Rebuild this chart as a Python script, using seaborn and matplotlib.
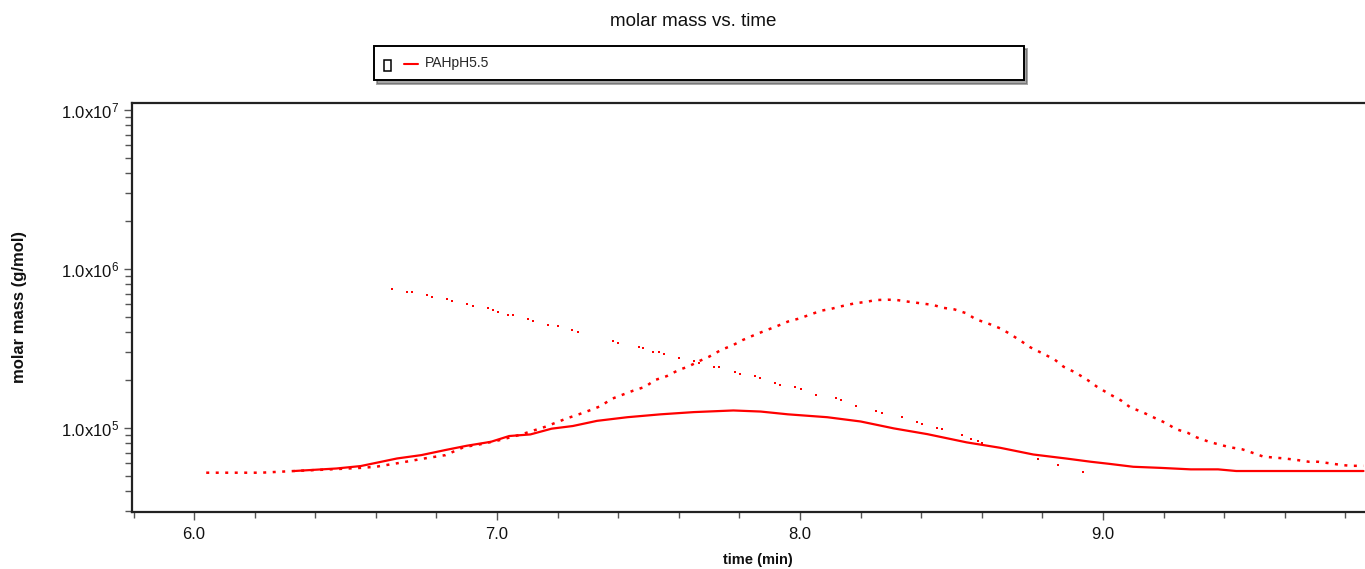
import numpy as np
import pandas as pd
import matplotlib
matplotlib.use("Agg")
import matplotlib.pyplot as plt
import seaborn as sns
from matplotlib.ticker import FixedLocator, LogLocator, MultipleLocator, NullFormatter
from matplotlib.lines import Line2D
from matplotlib.patches import Rectangle
from matplotlib.legend_handler import HandlerBase

# ---------------- data ----------------
title = "molar mass vs. time"
series_label = "PAHpH5.5"
x_label = "time (min)"
y_label = "molar mass (g/mol)"

# fitted molar mass (solid line)
t_fit = [6.33, 6.47, 6.55, 6.67, 6.75, 6.83, 6.90, 6.98, 7.04, 7.11, 7.18, 7.25, 7.33,
         7.43, 7.54, 7.65, 7.78, 7.87, 7.96, 8.09, 8.20, 8.31, 8.42, 8.55, 8.66, 8.77,
         8.88, 8.96, 9.02, 9.10, 9.19, 9.29, 9.38, 9.44, 9.60, 9.86]
m_fit = [5.37e4, 5.57e4, 5.77e4, 6.44e4, 6.76e4, 7.28e4, 7.74e4, 8.20e4, 8.91e4, 9.12e4,
         9.91e4, 1.03e5, 1.11e5, 1.17e5, 1.22e5, 1.26e5, 1.29e5, 1.27e5, 1.22e5, 1.17e5,
         1.10e5, 9.95e4, 9.16e4, 8.13e4, 7.52e4, 6.82e4, 6.43e4, 6.14e4, 5.96e4, 5.71e4,
         5.62e4, 5.50e4, 5.50e4, 5.37e4, 5.37e4, 5.37e4]

# dashed peak-shaped trace
t_trace = [6.04, 6.13, 6.22, 6.33, 6.45, 6.55, 6.60, 6.68, 6.76, 6.83, 6.89, 6.95, 7.01,
           7.08, 7.16, 7.23, 7.27, 7.31, 7.34, 7.38, 7.45, 7.49, 7.52, 7.56, 7.60, 7.63,
           7.67, 7.70, 7.74, 7.78, 7.81, 7.85, 7.89, 7.92, 7.96, 8.00, 8.03, 8.07, 8.10,
           8.14, 8.18, 8.22, 8.25, 8.29, 8.32, 8.36, 8.40, 8.44, 8.47, 8.51, 8.55, 8.58,
           8.62, 8.66, 8.69, 8.73, 8.76, 8.80, 8.84, 8.87, 8.91, 8.95, 8.98, 9.02, 9.06,
           9.09, 9.13, 9.17, 9.21, 9.24, 9.28, 9.31, 9.35, 9.39, 9.42, 9.46, 9.49, 9.53,
           9.60, 9.64, 9.68, 9.71, 9.75, 9.79, 9.82, 9.86]
m_trace = [5.24e4, 5.24e4, 5.24e4, 5.37e4, 5.50e4, 5.62e4, 5.71e4, 6.05e4, 6.44e4, 6.76e4,
           7.59e4, 7.94e4, 8.41e4, 9.12e4, 1.02e5, 1.15e5, 1.22e5, 1.30e5, 1.37e5, 1.53e5,
           1.72e5, 1.82e5, 2.00e5, 2.12e5, 2.32e5, 2.43e5, 2.65e5, 2.81e5, 3.10e5, 3.33e5,
           3.57e5, 3.85e5, 4.13e5, 4.34e5, 4.67e5, 4.90e5, 5.14e5, 5.47e5, 5.60e5, 5.85e5,
           6.08e5, 6.22e5, 6.38e5, 6.41e5, 6.38e5, 6.22e5, 6.08e5, 5.94e5, 5.71e5, 5.57e5,
           5.26e5, 4.83e5, 4.55e5, 4.24e5, 3.94e5, 3.52e5, 3.22e5, 2.95e5, 2.70e5, 2.43e5,
           2.23e5, 2.00e5, 1.82e5, 1.64e5, 1.49e5, 1.35e5, 1.26e5, 1.16e5, 1.07e5, 9.86e4,
           9.33e4, 8.73e4, 8.20e4, 7.82e4, 7.57e4, 7.35e4, 7.03e4, 6.61e4, 6.44e4, 6.30e4,
           6.14e4, 6.14e4, 6.00e4, 5.85e4, 5.79e4, 5.79e4]

# individual molar mass points (sparse dots)
t_pts = [6.652, 6.702, 6.718, 6.768, 6.784, 6.834, 6.850, 6.900, 6.920, 6.971, 6.987,
         7.003, 7.037, 7.053, 7.103, 7.119, 7.169, 7.200, 7.246, 7.266, 7.384, 7.400,
         7.467, 7.483, 7.516, 7.533, 7.551, 7.601, 7.650, 7.668, 7.716, 7.733, 7.784,
         7.802, 7.851, 7.868, 7.917, 7.934, 7.983, 8.002, 8.052, 8.119, 8.134, 8.185,
         8.251, 8.270, 8.337, 8.385, 8.402, 8.453, 8.470, 8.536, 8.566, 8.586, 8.602,
         8.786, 8.852, 8.933]
m_pts = [7.48e5, 7.13e5, 7.13e5, 6.84e5, 6.64e5, 6.47e5, 6.32e5, 6.03e5, 5.83e5, 5.66e5,
         5.55e5, 5.40e5, 5.14e5, 5.14e5, 4.84e5, 4.69e5, 4.47e5, 4.37e5, 4.13e5, 4.04e5,
         3.54e5, 3.43e5, 3.25e5, 3.19e5, 3.01e5, 3.01e5, 2.93e5, 2.77e5, 2.65e5, 2.55e5,
         2.42e5, 2.42e5, 2.24e5, 2.18e5, 2.11e5, 2.07e5, 1.91e5, 1.86e5, 1.80e5, 1.76e5,
         1.62e5, 1.54e5, 1.50e5, 1.38e5, 1.28e5, 1.24e5, 1.18e5, 1.09e5, 1.06e5, 1.00e5,
         9.82e4, 9.08e4, 8.53e4, 8.32e4, 8.05e4, 6.38e4, 5.87e4, 5.31e4]

x_ticks = [6.0, 7.0, 8.0, 9.0]
x_ticklabels = ["6.0", "7.0", "8.0", "9.0"]
y_ticks = [1e5, 1e6, 1e7]
y_ticklabels = [r"1.0x10$^{5}$", r"1.0x10$^{6}$", r"1.0x10$^{7}$"]

# ---------------- styling ----------------
sns.set_theme(style="white")
plt.rcParams["font.family"] = ["Liberation Sans", "DejaVu Sans"]
plt.rcParams["mathtext.fontset"] = "custom"
plt.rcParams["mathtext.rm"] = "Liberation Sans"
plt.rcParams["mathtext.it"] = "Liberation Sans:italic"
plt.rcParams["mathtext.bf"] = "Liberation Sans:bold"

RED = "#ff0000"
W, H = 1365, 569
fig = plt.figure(figsize=(W / 100, H / 100), dpi=100)
ax = fig.add_axes([132 / W, 1 - 511.7 / H, (W - 132) / W, (511.7 - 102.7) / H])

df_fit = pd.DataFrame({"t": t_fit, "m": m_fit})
df_trace = pd.DataFrame({"t": t_trace, "m": m_trace})
df_pts = pd.DataFrame({"t": t_pts, "m": m_pts})

sns.lineplot(data=df_trace, x="t", y="m", ax=ax, color=RED, lw=1.8,
             linestyle=(0, (1.2, 2.6)), estimator=None, sort=False, legend=False)
sns.lineplot(data=df_fit, x="t", y="m", ax=ax, color=RED, lw=1.6,
             estimator=None, sort=False, legend=False)
sns.scatterplot(data=df_pts, x="t", y="m", ax=ax, color=RED, marker="s", s=3,
                linewidth=0, legend=False)

ax.set_yscale("log")
ax.set_xlim(5.795, 9.865)
ax.set_ylim(2.98e4, 1.11e7)

ax.xaxis.set_major_locator(FixedLocator(x_ticks))
ax.set_xticklabels(x_ticklabels)
ax.xaxis.set_minor_locator(MultipleLocator(0.2))
ax.yaxis.set_major_locator(FixedLocator(y_ticks))
ax.set_yticklabels(y_ticklabels)
ax.yaxis.set_minor_locator(LogLocator(base=10, subs=np.arange(2, 10)))
ax.yaxis.set_minor_formatter(NullFormatter())

ax.tick_params(axis="both", which="both", direction="out", color="#555555",
               bottom=True, left=True, top=False, right=False)
ax.tick_params(axis="both", which="major", length=6, width=1.0, labelsize=12,
               labelcolor="#111111")
ax.tick_params(axis="y", which="minor", length=5, width=1.0)
ax.tick_params(axis="x", which="minor", length=4, width=1.0)
ax.tick_params(axis="y", which="major", pad=3)
ax.tick_params(axis="x", which="major", pad=5)

for side in ["left", "bottom", "top"]:
    ax.spines[side].set_visible(True)
    ax.spines[side].set_color("#222222")
    ax.spines[side].set_linewidth(1.6)
ax.spines["right"].set_visible(False)
ax.grid(False)

ax.set_xlabel(x_label, fontsize=10.5, fontweight="bold", color="#111111")
ax.set_ylabel(y_label, fontsize=12, fontweight="bold", color="#111111")
ax.xaxis.set_label_coords((758 - 132) / (W - 132), (511.7 - 560) / 409, transform=ax.transAxes)
ax.yaxis.set_label_coords((20 - 132) / (W - 132), 0.5, transform=ax.transAxes)
ax.xaxis.label.set_verticalalignment("center")
ax.yaxis.label.set_verticalalignment("center")

fig.text(693 / W, 1 - 22 / H, title, ha="center", va="center", fontsize=13.5,
         color="#111111")


# legend: open box marker followed by a short red line
class BoxLineHandler(HandlerBase):
    def create_artists(self, legend, orig_handle, xdescent, ydescent, width,
                       height, fontsize, trans):
        x0, y0 = -xdescent, -ydescent
        box = Rectangle((x0, y0 - 0.45 * height), 0.2 * width, 1.15 * height,
                        facecolor="white", edgecolor="black", lw=1.1, transform=trans)
        line = Line2D([x0 + 0.6 * width, x0 + width], [y0 + 0.3 * height] * 2,
                      color=RED, lw=1.5, transform=trans)
        return [box, line]


handle = Line2D([], [], color=RED)
leg = fig.legend([handle], [series_label], handler_map={Line2D: BoxLineHandler()},
                 loc="center left",
                 bbox_to_anchor=(374 / W, 1 - 80 / H, 650 / W, 34 / H),
                 mode="expand", borderaxespad=0, fontsize=10, handlelength=2.4,
                 handletextpad=0.5, borderpad=0.75, fancybox=False,
                 shadow={"ox": 2.5, "oy": -2.5, "color": "0.3"},
                 frameon=True, edgecolor="black", facecolor="white", framealpha=1)
leg.get_frame().set_linewidth(1.4)

fig.savefig("out.png", dpi=100)
